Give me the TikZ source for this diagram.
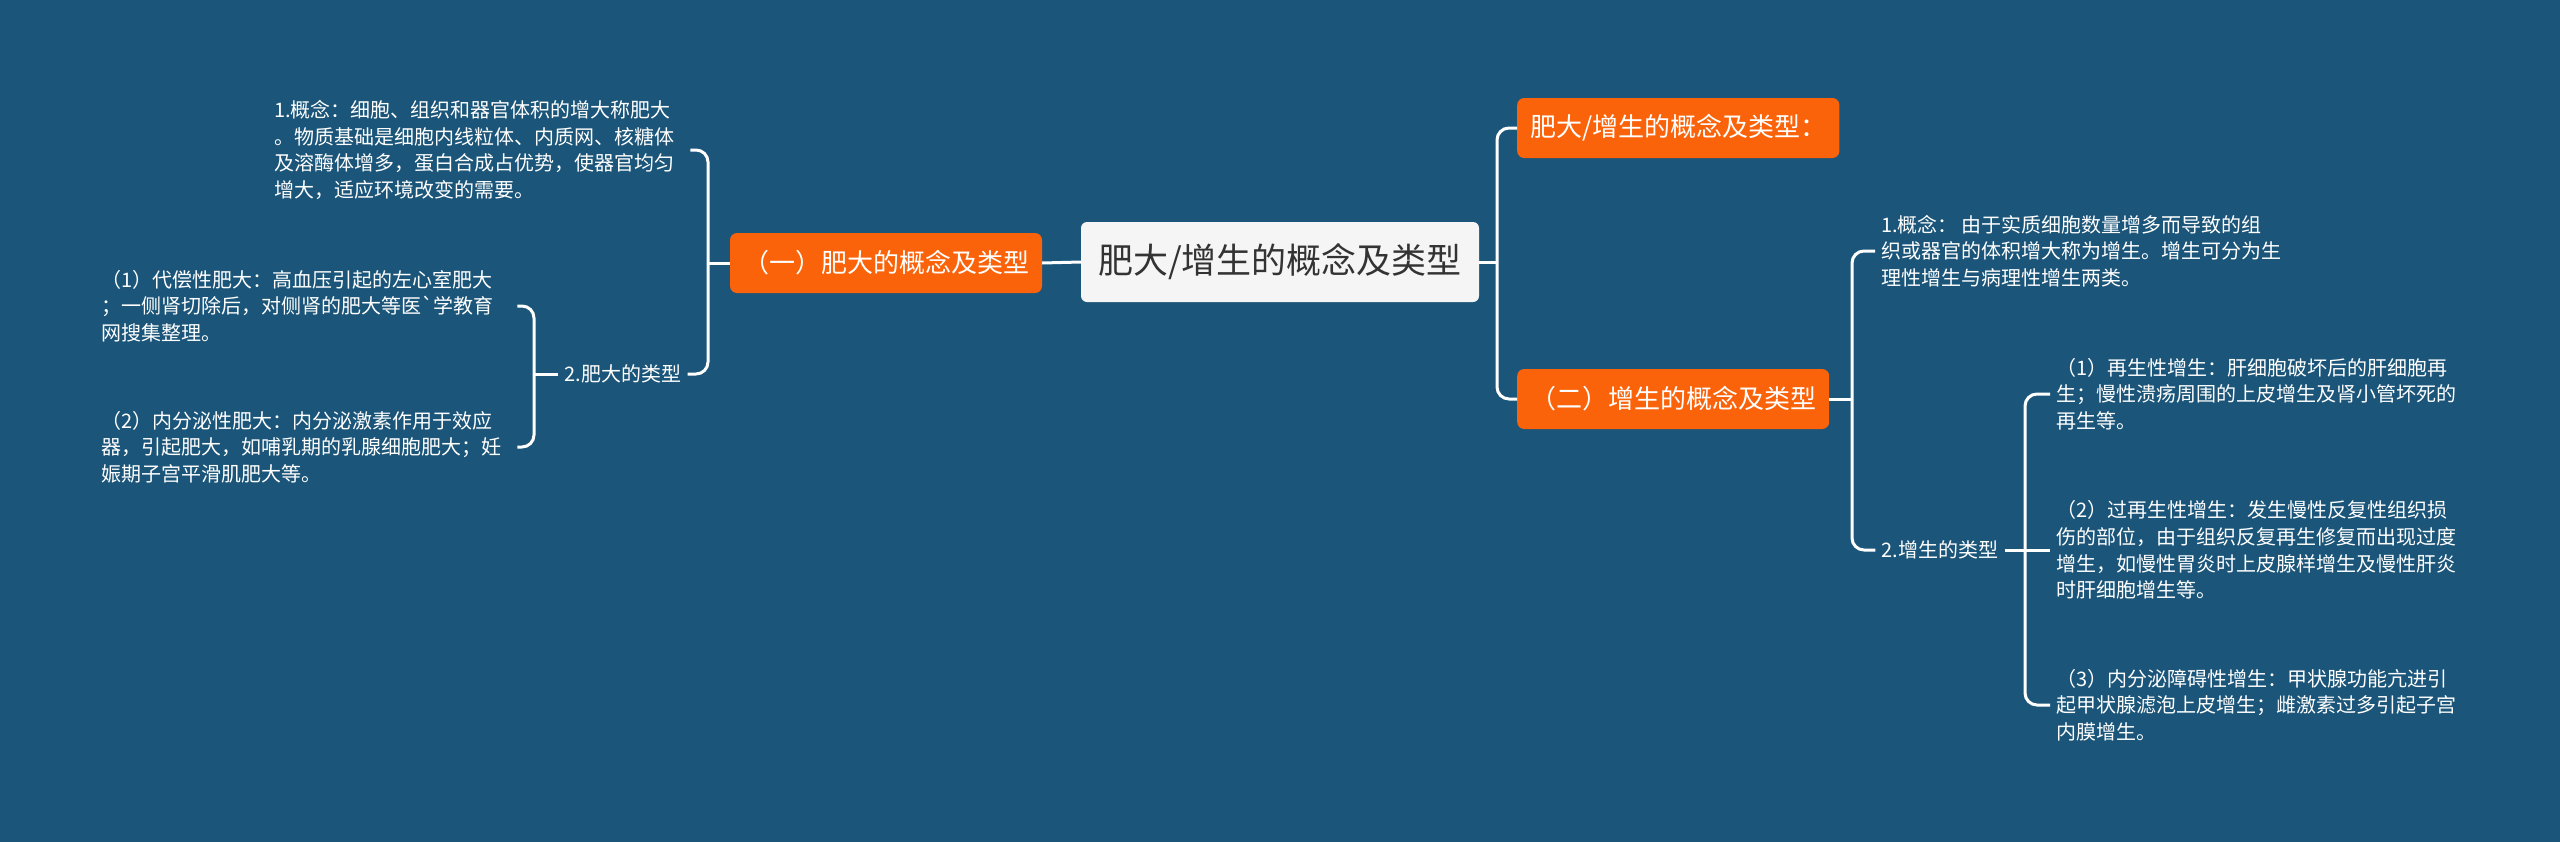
\documentclass[tikz,border=0pt]{standalone}
\usepackage{fontspec}
\newfontfamily\cjk{Noto Sans CJK SC}
\usepackage{xcolor}
\definecolor{bgblue}{RGB}{27,85,121}
\definecolor{topicorange}{RGB}{251,99,10}
\definecolor{rootgray}{RGB}{245,245,245}
\definecolor{roottext}{RGB}{51,51,51}
\def\backtick{{\char"60}}

\begin{document}
\begin{tikzpicture}[x=1pt,y=-1pt,
					rootbox/.style={fill=rootgray,text=roottext,rounded corners=6pt,
						minimum width=398pt,minimum height=80pt,inner sep=0pt,
						font=\cjk\fontsize{35}{42}\selectfont},
					topicbox/.style={fill=topicorange,text=white,rounded corners=7pt,
						minimum height=60pt,inner xsep=13pt,inner ysep=0pt,
						font=\cjk\fontsize{26}{31}\selectfont},
					subtopic/.style={text=white,inner xsep=6pt,inner ysep=2pt,
						font=\cjk\fontsize{20}{26.7}\selectfont},
					leaf/.style={text=white,align=left,text width=#1,inner xsep=6pt,inner ysep=2pt,
						font=\cjk\fontsize{20}{26.7}\selectfont},
					link/.style={draw=white,line width=3pt,rounded corners=12pt}]
				\useasboundingbox (0,0) rectangle (2560,841);
				\fill[bgblue] (-10,-10) rectangle (2570,851);
				% centre
				\node[rootbox] (root) at (1280,262) {肥大/增生的概念及类型};
				% left side
				\node[topicbox] (hyper) at (886,263) {（一）肥大的概念及类型};
				\node[leaf=410pt,anchor=west] (hyperdef) at (268,150)
					{1.概念：细胞、组织和器官体积的增大称肥大\\
					。物质基础是细胞内线粒体、内质网、核糖体\\
					及溶酶体增多，蛋白合成占优势，使器官均匀\\
					增大，适应环境改变的需要。};
				\node[subtopic] (hypertype) at (623,374) {2.肥大的类型};
				\node[leaf=410pt,anchor=west] (hypercomp) at (95,306)
					{（1）代偿性肥大：高血压引起的左心室肥大\\
					；一侧肾切除后，对侧肾的肥大等医\backtick 学教育\\
					网搜集整理。};
				\node[leaf=410pt,anchor=west] (hyperendo) at (95,447)
					{（2）内分泌性肥大：内分泌激素作用于效应\\
					器，引起肥大，如哺乳期的乳腺细胞肥大；妊\\
					娠期子宫平滑肌肥大等。};
				% right side
				\node[topicbox,anchor=west] (summary) at (1517,128) {肥大/增生的概念及类型：};
				\node[topicbox,anchor=west] (hyperp) at (1517,399) {（二）增生的概念及类型};
				\node[leaf=420pt,anchor=west] (hyperpdef) at (1875,251)
					{1.概念：\hspace{0.2em}由于实质细胞数量增多而导致的组\\
					织或器官的体积增大称为增生。增生可分为生\\
					理性增生与病理性增生两类。};
				\node[subtopic] (hyperptype) at (1940,550) {2.增生的类型};
				\node[leaf=420pt,anchor=west] (regen) at (2050,394)
					{（1）再生性增生：肝细胞破坏后的肝细胞再\\
					生；慢性溃疡周围的上皮增生及肾小管坏死的\\
					再生等。};
				\node[leaf=420pt,anchor=west] (overregen) at (2050,550)
					{（2）过再生性增生：发生慢性反复性组织损\\
					伤的部位，由于组织反复再生修复而出现过度\\
					增生，如慢性胃炎时上皮腺样增生及慢性肝炎\\
					时肝细胞增生等。};
				\node[leaf=420pt,anchor=west] (endoc) at (2050,705)
					{（3）内分泌障碍性增生：甲状腺功能亢进引\\
					起甲状腺滤泡上皮增生；雌激素过多引起子宫\\
					内膜增生。};
				% spines
				\coordinate (lspine) at (708,263);
				\coordinate (lsub) at (534,374);
				\coordinate (rspine) at (1497,262);
				\coordinate (rmid) at (1852,399);
				\coordinate (rsub) at (2025,550);
				% connectors
				\draw[link] (root.west) -- (hyper.east);
				\draw[link] (hyper.west) -- (lspine);
				\draw[link] (lspine) |- (hyperdef.east);
				\draw[link] (lspine) |- (hypertype.east);
				\draw[link] (hypertype.west) -- (lsub);
				\draw[link] (lsub) |- (hypercomp.east);
				\draw[link] (lsub) |- (hyperendo.east);
				\draw[link] (root.east) -- (rspine);
				\draw[link] (rspine) |- (summary.west);
				\draw[link] (rspine) |- (hyperp.west);
				\draw[link] (hyperp.east) -- (rmid);
				\draw[link] (rmid) |- (hyperpdef.west);
				\draw[link] (rmid) |- (hyperptype.west);
				\draw[link] (hyperptype.east) -- (rsub);
				\draw[link] (rsub) |- (regen.west);
				\draw[link] (rsub) -- (overregen.west);
				\draw[link] (rsub) |- (endoc.west);
			\end{tikzpicture}
\end{document}
